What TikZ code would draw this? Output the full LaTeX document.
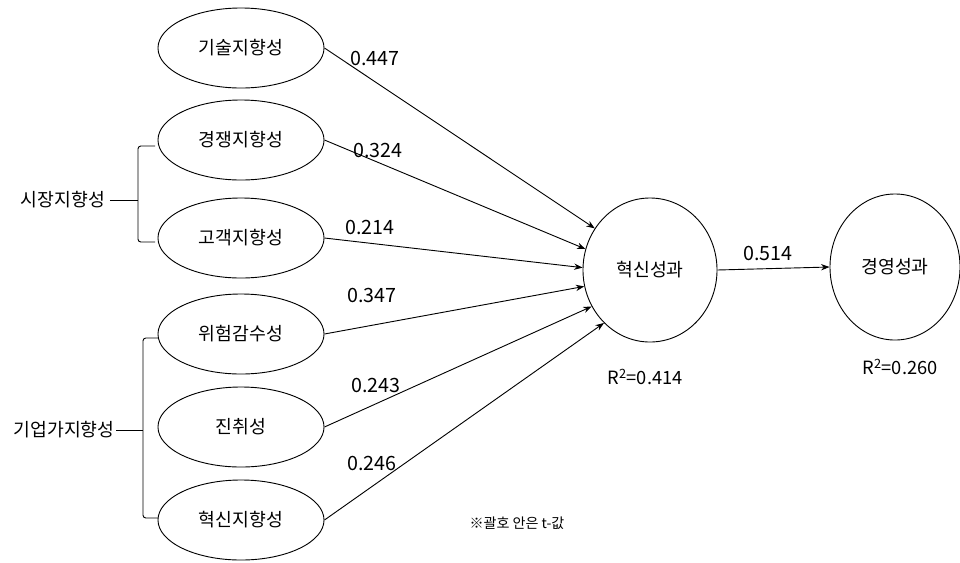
\documentclass[tikz,border=0pt]{standalone}
\usepackage{fontspec}
\setmainfont{Noto Sans CJK KR}
\usetikzlibrary{arrows.meta, shapes.geometric}

\tikzset{
    factor/.style={draw, ellipse, minimum width=4.15cm, minimum height=2cm, inner sep=0pt},
    outcome/.style={draw, ellipse, minimum width=3.35cm, minimum height=3.6cm, inner sep=0pt},
    effect/.style={-{Stealth[length=6pt, width=4.5pt]}},
    coef/.style={inner sep=1pt, font=\fontsize{14}{16}\selectfont},
}

\begin{document}
\begin{tikzpicture}[x=0.025cm, y=-0.025cm, line width=0.65pt, font=\fontsize{13}{15}\selectfont]
    \useasboundingbox (0,0) rectangle (960,562);

    % Outcome constructs
    \node[outcome] (inno) at (650,270) {혁신성과};
    \node[outcome, minimum width=3.25cm, minimum height=3.65cm] (perf) at (895,267) {경영성과};

    % Antecedent constructs (one column of ellipses)
    \foreach \name/\y/\txt in {tech/48/기술지향성, comp/140/경쟁지향성, cust/238/고객지향성,
                               risk/334/위험감수성, proa/427/진취성, innv/520/혁신지향성}{
        \node[factor] (\name) at (241,\y) {\txt};
    }

    % Paths into the innovation outcome, with their coefficients
    \foreach \name/\ang/\val/\lx/\ly in {tech/143/0.447/375/58, comp/162/0.324/378/150,
                                         cust/178/0.214/370/227, risk/194/0.347/372/295,
                                         proa/212/0.243/376/385, innv/229/0.246/372/463}{
        \draw[effect] (\name.east) -- (inno.\ang);
        \node[coef] (c-\name) at (\lx,\ly) {\val};
    }

    % Innovation -> business performance
    \draw[effect] (inno.east) -- (perf.west);
    \node[coef] (c-perf) at (768,253) {0.514};

    % Explained variance
    \node (r-inno) at (645,377) {R\textsuperscript{2}=0.414};
    \node (r-perf) at (900,367) {R\textsuperscript{2}=0.260};

    % Market orientation bracket
    \node[inner sep=1pt] (mkt) at (63,200) {시장지향성};
    \coordinate (mkt-top) at (155,146);
    \coordinate (mkt-bot) at (155,242);
    \coordinate (mkt-mid) at (138,200);
    \draw[rounded corners=2pt] (mkt-top) -| (mkt-mid) |- (mkt-bot);
    \draw (mkt.east) ++(3,0) -- (mkt-mid);

    % Entrepreneurial orientation bracket
    \node[inner sep=1pt] (ent) at (64,430) {기업가지향성};
    \coordinate (ent-top) at (158,338);
    \coordinate (ent-bot) at (158,518);
    \coordinate (ent-mid) at (143,430);
    \draw[rounded corners=2pt] (ent-top) -| (ent-mid) |- (ent-bot);
    \draw (ent.east) -- (ent-mid);

    % Footnote
    \node[font=\fontsize{10}{12}\selectfont] (note) at (517,523) {※괄호 안은 t-값};
\end{tikzpicture}
\end{document}
